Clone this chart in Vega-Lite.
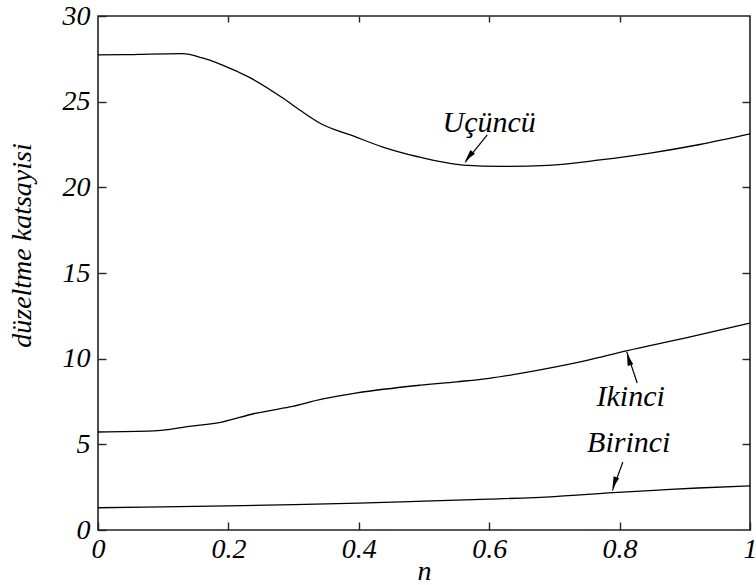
{
  "$schema": "https://vega.github.io/schema/vega-lite/v6.json",
  "width": 652,
  "height": 514,
  "autosize": {"type": "none"},
  "padding": {"left": 98, "top": 16, "right": 6, "bottom": 55},
  "background": "white",
  "config": {
    "view": {"stroke": "#222", "strokeWidth": 1.6},
    "font": "Times New Roman",
    "axis": {
      "domain": false,
      "grid": false,
      "tickColor": "#222",
      "tickWidth": 1.4,
      "labelFont": "Times New Roman",
      "labelFontStyle": "italic",
      "labelFontSize": 28,
      "labelColor": "black",
      "titleFont": "Times New Roman",
      "titleFontStyle": "italic",
      "titleFontWeight": "normal",
      "titleFontSize": 28,
      "titleColor": "black"
    }
  },
  "datasets": {
    "curves": [
      {"n": 0.0, "k": 27.73, "s": "Uçüncü"},
      {"n": 0.04, "k": 27.74, "s": "Uçüncü"},
      {"n": 0.08, "k": 27.78, "s": "Uçüncü"},
      {"n": 0.13, "k": 27.8, "s": "Uçüncü"},
      {"n": 0.16, "k": 27.55, "s": "Uçüncü"},
      {"n": 0.19, "k": 27.15, "s": "Uçüncü"},
      {"n": 0.233, "k": 26.4, "s": "Uçüncü"},
      {"n": 0.284, "k": 25.2, "s": "Uçüncü"},
      {"n": 0.31, "k": 24.5, "s": "Uçüncü"},
      {"n": 0.345, "k": 23.65, "s": "Uçüncü"},
      {"n": 0.387, "k": 23.06, "s": "Uçüncü"},
      {"n": 0.437, "k": 22.35, "s": "Uçüncü"},
      {"n": 0.489, "k": 21.8, "s": "Uçüncü"},
      {"n": 0.56, "k": 21.3, "s": "Uçüncü"},
      {"n": 0.62, "k": 21.22, "s": "Uçüncü"},
      {"n": 0.69, "k": 21.28, "s": "Uçüncü"},
      {"n": 0.77, "k": 21.6, "s": "Uçüncü"},
      {"n": 0.847, "k": 22.0, "s": "Uçüncü"},
      {"n": 0.923, "k": 22.5, "s": "Uçüncü"},
      {"n": 1.0, "k": 23.12, "s": "Uçüncü"},
      {"n": 0.0, "k": 5.72, "s": "Ikinci"},
      {"n": 0.085, "k": 5.78, "s": "Ikinci"},
      {"n": 0.14, "k": 6.05, "s": "Ikinci"},
      {"n": 0.19, "k": 6.3, "s": "Ikinci"},
      {"n": 0.24, "k": 6.8, "s": "Ikinci"},
      {"n": 0.294, "k": 7.18, "s": "Ikinci"},
      {"n": 0.345, "k": 7.65, "s": "Ikinci"},
      {"n": 0.397, "k": 8.0, "s": "Ikinci"},
      {"n": 0.494, "k": 8.45, "s": "Ikinci"},
      {"n": 0.55, "k": 8.65, "s": "Ikinci"},
      {"n": 0.6, "k": 8.85, "s": "Ikinci"},
      {"n": 0.65, "k": 9.15, "s": "Ikinci"},
      {"n": 0.7, "k": 9.5, "s": "Ikinci"},
      {"n": 0.75, "k": 9.9, "s": "Ikinci"},
      {"n": 0.81, "k": 10.45, "s": "Ikinci"},
      {"n": 0.9, "k": 11.2, "s": "Ikinci"},
      {"n": 1.0, "k": 12.08, "s": "Ikinci"},
      {"n": 0.0, "k": 1.3, "s": "Birinci"},
      {"n": 0.1, "k": 1.35, "s": "Birinci"},
      {"n": 0.2, "k": 1.41, "s": "Birinci"},
      {"n": 0.3, "k": 1.48, "s": "Birinci"},
      {"n": 0.4, "k": 1.57, "s": "Birinci"},
      {"n": 0.5, "k": 1.68, "s": "Birinci"},
      {"n": 0.6, "k": 1.8, "s": "Birinci"},
      {"n": 0.7, "k": 1.95, "s": "Birinci"},
      {"n": 0.79, "k": 2.18, "s": "Birinci"},
      {"n": 0.86, "k": 2.33, "s": "Birinci"},
      {"n": 0.92, "k": 2.45, "s": "Birinci"},
      {"n": 1.0, "k": 2.57, "s": "Birinci"}
    ],
    "notes": [
      {"label": "Uçüncü", "tx": 0.6, "ty": 23.76, "x1": 0.597, "y1": 23.06, "x2": 0.563, "y2": 21.45, "hx": 0.569, "hy": 21.8, "ang": 219},
      {"label": "Ikinci", "tx": 0.817, "ty": 7.76, "x1": 0.827, "y1": 8.58, "x2": 0.811, "y2": 10.4, "hx": 0.814, "hy": 9.95, "ang": 343},
      {"label": "Birinci", "tx": 0.814, "ty": 5.08, "x1": 0.805, "y1": 3.97, "x2": 0.789, "y2": 2.3, "hx": 0.792, "hy": 2.75, "ang": 200}
    ]
  },
  "resolve": {"axis": {"x": "independent", "y": "independent"}},
  "layer": [
    {
      "data": {"name": "curves"},
      "mark": {"type": "line", "interpolate": "monotone", "strokeWidth": 1.3, "color": "black"},
      "encoding": {
        "x": {
          "field": "n", "type": "quantitative",
          "scale": {"domain": [0, 1], "nice": false, "zero": false},
          "axis": {"orient": "bottom", "values": [0, 0.2, 0.4, 0.6, 0.8, 1], "format": ".1~f", "tickSize": -8, "labelPadding": 13, "title": "n", "titlePadding": -6, "labelFlush": false}
        },
        "y": {
          "field": "k", "type": "quantitative",
          "scale": {"domain": [0, 30], "nice": false},
          "axis": {"orient": "left", "values": [0, 5, 10, 15, 20, 25, 30], "tickSize": -8, "labelPadding": 16, "title": "düzeltme katsayisi", "titlePadding": 26, "titleY": 229, "labelFlush": false}
        },
        "detail": {"field": "s", "type": "nominal"}
      }
    },
    {
      "data": {"name": "notes"},
      "mark": {"type": "rule", "color": "black", "strokeWidth": 1.2},
      "encoding": {
        "x": {
          "field": "x1", "type": "quantitative",
          "axis": {"orient": "top", "values": [0.2, 0.4, 0.6, 0.8], "tickSize": -6, "labels": false, "title": null}
        },
        "y": {
          "field": "y1", "type": "quantitative",
          "axis": {"orient": "right", "values": [5, 10, 15, 20, 25], "tickSize": -8, "labels": false, "title": null}
        },
        "x2": {"field": "x2"},
        "y2": {"field": "y2"}
      }
    },
    {
      "data": {"name": "notes"},
      "mark": {"type": "point", "shape": "M0,-1L0.5,1L-0.5,1Z", "filled": true, "color": "black", "size": 140, "opacity": 1},
      "encoding": {
        "x": {"field": "hx", "type": "quantitative", "axis": null},
        "y": {"field": "hy", "type": "quantitative", "axis": null},
        "angle": {"field": "ang", "type": "quantitative", "scale": null}
      }
    },
    {
      "data": {"name": "notes"},
      "mark": {"type": "text", "font": "Times New Roman", "fontStyle": "italic", "fontSize": 30, "color": "black", "align": "center", "baseline": "middle"},
      "encoding": {
        "x": {"field": "tx", "type": "quantitative", "axis": null},
        "y": {"field": "ty", "type": "quantitative", "axis": null},
        "text": {"field": "label"}
      }
    }
  ]
}
